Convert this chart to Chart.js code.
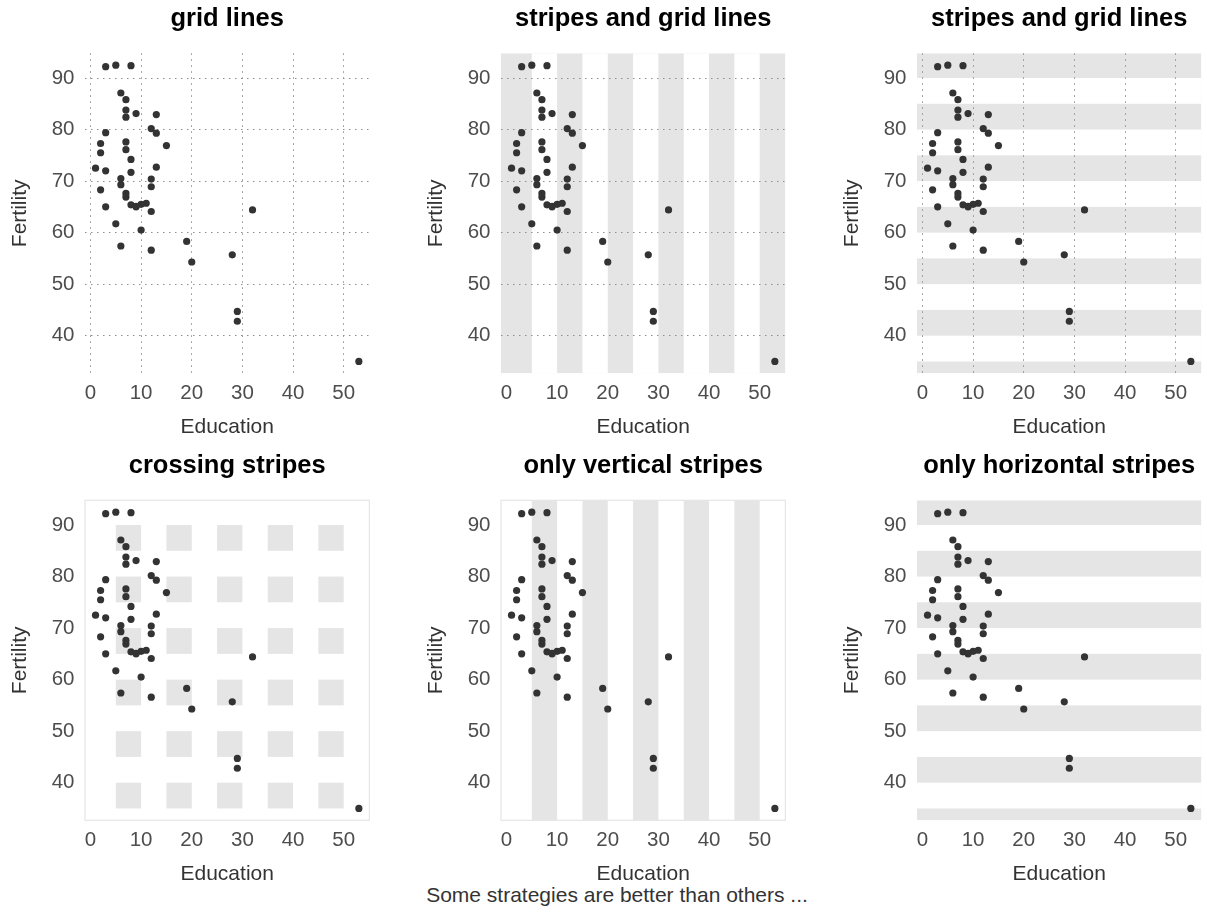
<!DOCTYPE html>
<html>
<head>
<meta charset="utf-8">
<script src="https://cdn.jsdelivr.net/npm/chart.js@4.4.0/dist/chart.umd.min.js"></script>
<style>
  body { margin: 0; background: #fff; width: 1207px; height: 915px; position: relative; overflow: hidden; }
  canvas { position: absolute; }
  #caption { position: absolute; left: 317px; width: 600px; top: 885px; text-align: center;
             font: 21px "Liberation Sans", Arial, sans-serif; line-height: 20px; color: #333; }
</style>
</head>
<body>
<div id="caption">Some strategies are better than others ...</div>
<script>
// swiss data, one value per district
const education = [12, 9, 5, 7, 15, 7, 7, 8, 7, 13, 6, 12, 7, 12, 5, 2, 8, 28, 20, 9, 10, 3, 12, 6, 1, 8, 3, 10, 19, 8,
                   2, 6, 2, 6, 3, 9, 3, 13, 12, 11, 13, 32, 7, 7, 53, 29, 29];
const fertility = [80.2, 83.1, 92.5, 85.8, 76.9, 76.1, 83.8, 92.4, 82.4, 82.9, 87.1, 64.1, 66.9, 68.9, 61.7, 68.3, 71.7,
                   55.7, 54.3, 65.1, 65.5, 65.0, 56.6, 57.4, 72.5, 74.2, 72.0, 60.5, 58.3, 65.4, 75.5, 69.3, 77.3, 70.5,
                   79.4, 65.0, 92.2, 79.3, 70.4, 65.7, 72.7, 64.4, 77.6, 67.6, 35.0, 44.7, 42.8];

const xTicks = [0, 10, 20, 30, 40, 50];
const yTicks = [40, 50, 60, 70, 80, 90];

// stripe bands (start value, each band is stripeWidth wide)
const stripeWidth = 5;
const xStripeStarts = [5, 15, 25, 35, 45];
const yStripeStarts = [35, 45, 55, 65, 75, 85];

const panelTitles = ["grid lines", "stripes and grid lines", "stripes and grid lines",
                     "crossing stripes", "only vertical stripes", "only horizontal stripes"];

const FONT = '"Liberation Sans", Arial, sans-serif';
const GRAY = '#e5e5e5';

// axis range: data range plus a small margin
function range(vals, f) {
    const lo = Math.min(...vals), hi = Math.max(...vals);
    const pad = (hi - lo) * f;
    return [lo - pad, hi + pad];
}
const [xMin, xMax] = range(education, 0.04);
const [yMin, yMax] = range(fertility, 0.04);

const points = education.map((e, i) => ({x: e, y: fertility[i]}));

const stripePlugin = {
    id: 'stripes',
    beforeDraw(chart, args, opts) {
        const {ctx, chartArea: a, scales: {x, y}} = chart;
        ctx.save();
        ctx.beginPath();
        ctx.rect(a.left, a.top, a.right - a.left, a.bottom - a.top);
        ctx.clip();
        const xs = xStripeStarts.map(v => [x.getPixelForValue(v), x.getPixelForValue(v + stripeWidth)]);
        const ys = yStripeStarts.map(v => [y.getPixelForValue(v + stripeWidth), y.getPixelForValue(v)]);
        const mode = opts.mode;
        if (mode === 'vgaps' || mode === 'hgaps') {
            ctx.fillStyle = GRAY;
            ctx.fillRect(a.left, a.top, a.right - a.left, a.bottom - a.top);
            ctx.fillStyle = '#fff';
            if (mode === 'vgaps') xs.forEach(s => ctx.fillRect(s[0], a.top, s[1] - s[0], a.bottom - a.top));
            else ys.forEach(s => ctx.fillRect(a.left, s[0], a.right - a.left, s[1] - s[0]));
        } else if (mode === 'vbands') {
            ctx.fillStyle = GRAY;
            xs.forEach(s => ctx.fillRect(s[0], a.top, s[1] - s[0], a.bottom - a.top));
        } else if (mode === 'cross') {
            ctx.fillStyle = GRAY;
            xs.forEach(sx => ys.forEach(sy => ctx.fillRect(sx[0], sy[0], sx[1] - sx[0], sy[1] - sy[0])));
        }
        ctx.restore();
    },
    beforeDatasetsDraw(chart, args, opts) {
        if (!opts.border) return;
        const {ctx, chartArea: a} = chart;
        ctx.save();
        ctx.strokeStyle = GRAY;
        ctx.lineWidth = 1.2;
        ctx.strokeRect(a.left, a.top, a.right - a.left, a.bottom - a.top);
        ctx.restore();
    }
};

function makePanel(i, left, top, mode, gridX, gridY, border) {
    const canvas = document.createElement('canvas');
    canvas.width = 373;
    canvas.height = 450;
    canvas.style.left = left + 'px';
    canvas.style.top = top + 'px';
    document.body.appendChild(canvas);

    new Chart(canvas, {
        type: 'scatter',
        data: {
            datasets: [{
                data: points,
                pointRadius: 3.6,
                pointHoverRadius: 3.6,
                pointBackgroundColor: '#333333',
                pointBorderWidth: 0
            }]
        },
        options: {
            responsive: false,
            animation: false,
            events: [],
            layout: {padding: 0},
            plugins: {
                legend: {display: false},
                tooltip: {enabled: false},
                title: {
                    display: true,
                    text: panelTitles[i],
                    fullSize: false,
                    color: '#000',
                    font: {family: FONT, size: 25.5, weight: 'bold'},
                    padding: {top: 4.1, bottom: 18.6}
                },
                stripes: {mode: mode, border: border}
            },
            scales: {
                x: {
                    type: 'linear',
                    min: xMin, max: xMax,
                    afterBuildTicks: s => { s.ticks = xTicks.map(v => ({value: v})); },
                    afterFit: s => { s.height = 76.7; },
                    grid: {display: gridX, color: '#8f8f8f', lineWidth: 1, drawTicks: false},
                    border: {display: false, dash: [1.5, 4.5]},
                    ticks: {color: '#4d4d4d', font: {family: FONT, size: 20.5}, padding: 7.9,
                            maxRotation: 0, autoSkip: false},
                    title: {display: true, text: 'Education', color: '#333',
                            font: {family: FONT, size: 21}, padding: {top: 0, bottom: 9.7}}
                },
                y: {
                    type: 'linear',
                    min: yMin, max: yMax,
                    afterBuildTicks: s => { s.ticks = yTicks.map(v => ({value: v})); },
                    afterFit: s => { s.width = 85; },
                    grid: {display: gridY, color: '#8f8f8f', lineWidth: 1, drawTicks: false},
                    border: {display: false, dash: [1.5, 4.5]},
                    ticks: {color: '#4d4d4d', font: {family: FONT, size: 20.5}, padding: 10.5, autoSkip: false},
                    title: {display: true, text: 'Fertility', color: '#333',
                            font: {family: FONT, size: 21}, padding: {top: 8.1, bottom: 0}}
                }
            }
        },
        plugins: [stripePlugin]
    });
}

makePanel(0, 0, 0, 'none', true, true, false);
makePanel(1, 416, 0, 'vgaps', false, true, false);
makePanel(2, 832, 0, 'hgaps', true, false, false);
makePanel(3, 0, 447, 'cross', false, false, true);
makePanel(4, 416, 447, 'vbands', false, false, true);
makePanel(5, 832, 447, 'hgaps', false, false, false);
</script>
</body>
</html>
